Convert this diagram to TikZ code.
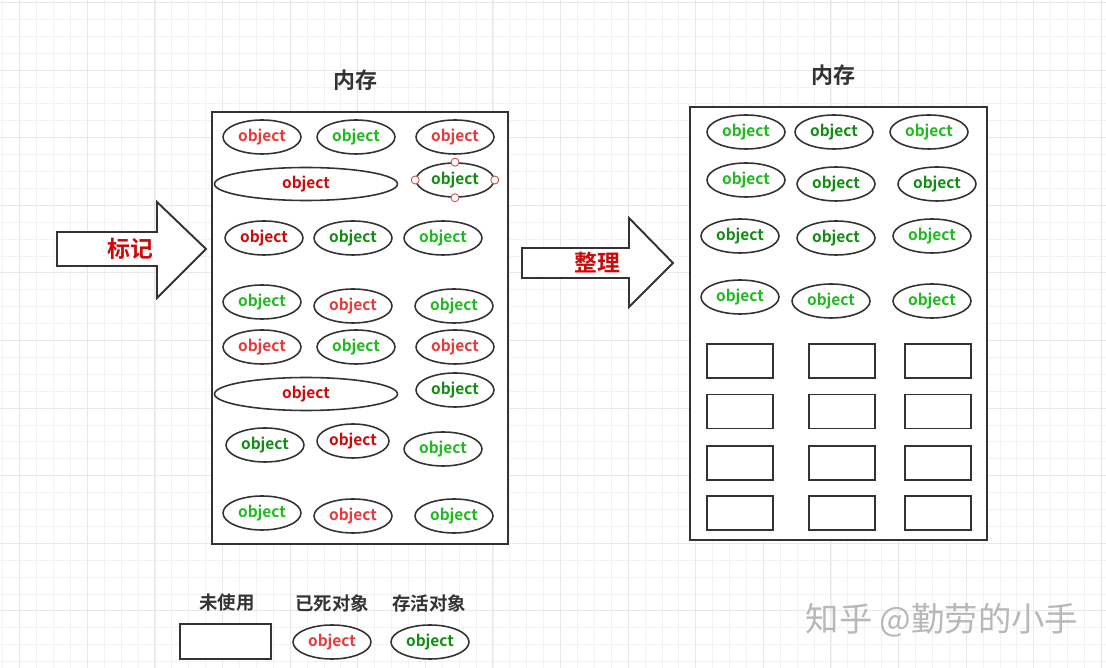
\documentclass[tikz,border=0pt]{standalone}
\usepackage{fontspec}
\setmainfont{Noto Sans CJK SC}[BoldFont={Noto Sans CJK SC Bold}]
\usepackage{tikz}
\usepackage{xcolor}
\usetikzlibrary{shapes.geometric, positioning}

\definecolor{objred}{HTML}{E63B3B}
\definecolor{objdred}{HTML}{CC0A0A}
\definecolor{objgreen}{HTML}{1FBA1F}
\definecolor{objdgreen}{HTML}{128C12}
\definecolor{inkgray}{HTML}{333333}

\begin{document}
\begin{tikzpicture}[x=0.02cm, y=-0.02cm,
  box/.style={draw=inkgray, line width=1.1pt, fill=white, inner sep=0pt},
  obj/.style={ellipse, draw=inkgray, line width=0.9pt, fill=white, minimum width=1.56cm, minimum height=0.68cm, inner sep=0pt, font=\bfseries\fontsize{8.8}{8.8}\selectfont},
  bigobj/.style={obj, minimum width=3.66cm, minimum height=0.66cm},
  slot/.style={draw=inkgray, line width=1pt, fill=white, minimum width=1.32cm, minimum height=0.68cm, inner sep=0pt},
  handle/.style={circle, draw=objred!70!gray, fill=white, line width=0.5pt, minimum size=0.16cm, inner sep=0pt},
  title/.style={font=\bfseries\fontsize{12.5}{12.5}\selectfont, text=inkgray},
  legend/.style={font=\bfseries\fontsize{10.5}{10.5}\selectfont, text=inkgray},
  verb/.style={font=\bfseries\fontsize{13}{13}\selectfont, text=objdred}]
\useasboundingbox (0,0) rectangle (1106,668);

% background grid
\fill[white] (0,0) rectangle (1106,668);
\foreach \i in {0,...,65}
  \draw[black!5, line width=0.4pt] ({2.8+16.9*\i},0) -- ++(0,668);
\foreach \j in {0,...,39}
  \draw[black!5, line width=0.4pt] (0,{2.4+16.9*\j}) -- ++(1106,0);
\foreach \i in {0,...,16}
  \draw[black!9, line width=0.5pt] ({19.7+67.6*\i},0) -- ++(0,668);
\foreach \j in {0,...,9}
  \draw[black!9, line width=0.5pt] (0,{2.4+67.6*\j}) -- ++(1106,0);

% memory before
\node[title] (titleL) at (355,80) {内存};
\node[box, minimum width=5.92cm, minimum height=8.64cm] (memL) at (360,328) {};
\foreach \x/\y/\c/\n in {262/137/objred/11, 356/137/objgreen/12, 455/137/objred/13,
    455/180/objdgreen/23,
    264/238/objdred/31, 353/238/objdgreen/32, 443/238/objgreen/33,
    262/302/objgreen/41, 353/306/objred/42, 454/306/objgreen/43,
    262/347/objred/51, 356/347/objgreen/52, 455/347/objred/53,
    455/390/objdgreen/63,
    265/445/objdgreen/71, 443/449/objgreen/73,
    262/513/objgreen/81, 353/516/objred/82, 454/516/objgreen/83}
  \node[obj, text=\c] (L\n) at (\x,\y) {object};
\node[obj, minimum width=1.44cm, text=objdred] (L72) at (353,441) {object};
\node[bigobj, text=objdred] (L21) at (306,184) {object};
\node[bigobj, text=objdred] (L61) at (306,394) {object};
% selection handles
\foreach \a in {north, south, east, west}
  \node[handle] (h\a) at (L23.\a) {};

% mark arrow
\draw[box, line join=miter] (57,232) -- (157,232) -- (157,202) -- (206,249)
  -- (157,298) -- (157,266) -- (57,266) -- cycle;
\node[verb] (markTxt) at (130,249) {标记};

% compact arrow
\draw[box, line join=miter] (522,248) -- (629,248) -- (629,218) -- (673,263)
  -- (629,307) -- (629,278) -- (522,278) -- cycle;
\node[verb] (compactTxt) at (597,263) {整理};

% memory after
\node[title] (titleR) at (833,75) {内存};
\node[box, minimum width=5.94cm, minimum height=8.66cm] (memR) at (838.5,323.5) {};
\foreach \x/\y/\c/\n in {746/132/objgreen/11, 834/132/objdgreen/12, 929/132/objgreen/13,
    746/180/objgreen/21, 836/184/objdgreen/22, 937/184/objdgreen/23,
    740/236/objdgreen/31, 836/238/objdgreen/32, 932/236/objgreen/33,
    740/297/objgreen/41, 831/301/objgreen/42, 932/301/objgreen/43}
  \node[obj, text=\c] (R\n) at (\x,\y) {object};
\foreach \x [count=\i] in {740, 842, 938}
  \foreach \y [count=\j] in {361, 411.5, 463, 513}
    \node[slot] (S\i\j) at (\x,\y) {};

% legend
\node[legend] (keyFreeTxt) at (227,603) {未使用};
\node[legend] (keyDeadTxt) at (332,603) {已死对象};
\node[legend] (keyLiveTxt) at (429,603) {存活对象};
\node[slot, minimum width=1.82cm, minimum height=0.7cm] (keyFree) at (225.5,641.5) {};
\node[obj, text=objred] (keyDead) at (332,642) {object};
\node[obj, text=objdgreen] (keyLive) at (430,642) {object};

% watermark
\node[text=black!28, font=\fontsize{19}{19}\selectfont] (wm) at (942,620) {知乎 @勤劳的小手};
\end{tikzpicture}
\end{document}
